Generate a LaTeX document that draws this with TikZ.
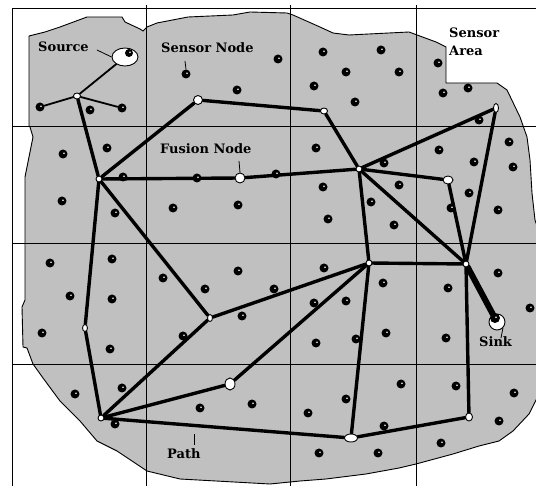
\documentclass[tikz,border=0pt]{standalone}
\usepackage{fontspec}
\setmainfont{DejaVu Serif}
\usetikzlibrary{shapes.geometric}
\pgfdeclarelayer{bg}
\pgfdeclarelayer{edges}
\pgfsetlayers{bg,edges,main}
\definecolor{areagray}{RGB}{192,192,192}
\begin{document}
\begin{tikzpicture}[x=1pt,y=-1pt,
  sens/.style={circle,fill=black,inner sep=0pt,minimum size=9pt,
    path picture={\fill[white] ([xshift=1pt,yshift=0.7pt]path picture bounding box.center) circle (0.9pt);}},
  fus/.style={ellipse,draw=black,fill=white,line width=0.9pt,inner sep=0pt,minimum width=8pt,minimum height=7pt},
  thickedge/.style={line width=3.4pt,line cap=round,line join=round},
  thinedge/.style={line width=1.8pt,line cap=round},
  sinkedge/.style={line width=6pt,line cap=round},
  leader/.style={line width=0.8pt},
  gridline/.style={line width=0.9pt,black},
  lbl/.style={font=\fontsize{13}{15}\selectfont\bfseries,anchor=base west,inner sep=0pt}
]
\useasboundingbox (0,0) rectangle (536,486);

% sensor area and grid
\begin{pgfonlayer}{bg}
\fill[white] (0,0) rectangle (536,486);
\draw[fill=areagray,line width=0.9pt]
 (29,36) -- (45,32) -- (60,27) -- (87,17) -- (122,17) -- (125,22) -- (140,29) -- (143,31) -- (147,27)
 -- (157,23) -- (188,17) -- (233,15) -- (250,12) -- (287,13) -- (293,15) -- (320,27) -- (333,33)
 -- (349,35) -- (409,32) -- (436,42) -- (446,47) -- (446,83) -- (466,83) -- (497,83) -- (507,90)
 -- (520,117) -- (527,137) -- (530,160) -- (532,193) -- (535,220) -- (537,226) -- (537,398)
 -- (529,414) -- (513,431) -- (499,441) -- (479,446) -- (453,454) -- (416,464) -- (399,468)
 -- (366,474) -- (326,479) -- (300,481) -- (270,484) -- (180,479) -- (147,471) -- (117,451)
 -- (97,441) -- (80,421) -- (60,401) -- (43,378) -- (33,364) -- (27,348) -- (23,347) -- (22,307)
 -- (25,300) -- (25,177) -- (33,137) -- (30,127) -- (29,126) -- cycle;
\draw[gridline] (12,8) -- (536,8);
\draw[gridline] (12,126) -- (536,126);
\draw[gridline] (12,243) -- (536,243);
\draw[gridline] (12,364) -- (536,364);
\draw[gridline] (12,8) -- (12,486);
\draw[gridline] (146,5) -- (146,486);
\draw[gridline] (290,5) -- (290,486);
\draw[gridline] (416,5) -- (416,486);
\end{pgfonlayer}

% source and sink
\node[ellipse,draw=black,fill=white,line width=0.9pt,minimum width=26pt,minimum height=18pt,inner sep=0pt] (src) at (125,57) {};
\node[sens,minimum size=8pt] (srcdot) at (129,53) {};
\node[circle,draw=black,fill=white,line width=0.9pt,minimum size=16pt,inner sep=0pt] (sink) at (497,322) {};
\node[sens,minimum size=10pt] (sinkdot) at (495,318) {};

% fusion / path nodes
\node[fus,minimum width=7pt,minimum height=6pt] (A) at (77,96) {};
\node[fus,minimum width=6pt,minimum height=6pt] (B) at (99,179) {};
\node[fus,minimum width=9pt,minimum height=9pt] (C) at (198,100) {};
\node[fus,minimum width=7pt,minimum height=6pt] (E) at (324,111) {};
\node[fus,minimum width=6pt,minimum height=6pt] (F) at (359,169) {};
\node[fus,minimum width=5pt,minimum height=9pt] (G) at (496,108) {};
\node[fus,minimum width=10pt,minimum height=8pt] (I) at (448,180) {};
\node[fus,minimum width=6pt,minimum height=6pt] (H) at (466,264) {};
\node[fus,minimum width=6pt,minimum height=6pt] (J) at (369,263) {};
\node[fus,minimum width=10pt,minimum height=10pt] (fusion) at (240,178) {};
\node[fus,minimum width=5pt,minimum height=7pt] (N) at (210,318) {};
\node[fus,minimum width=5pt,minimum height=7pt] (P) at (85,328) {};
\node[fus,minimum width=6pt,minimum height=6pt] (D) at (101,418) {};
\node[fus,minimum width=10pt,minimum height=12pt] (K) at (230,384) {};
\node[fus,minimum width=13pt,minimum height=8pt] (L) at (351,438) {};
\node[fus,minimum width=7pt,minimum height=8pt] (M) at (469,417) {};

% sensor nodes
\foreach \i/\p in {s1/{(40,107)},s2/{(122,108)},s3/{(90,110)},slab/{(186,74)},s5/{(237,90)},
  s6/{(63,154)},s7/{(107,148)},s8/{(62,201)},s9/{(115,213)},s10/{(123,177)},s11/{(197,178)},
  s12/{(173,208)},s13/{(238,205)},
  t1/{(278,59)},t2/{(323,52)},t3/{(381,50)},t4/{(346,72)},t5/{(399,72)},t6/{(314,86)},t7/{(355,102)},
  t8/{(438,63)},t9/{(443,93)},t10/{(468,88)},t11/{(479,120)},t12/{(316,148)},t13/{(384,163)},
  t14/{(439,150)},t15/{(474,162)},t16/{(509,142)},t17/{(513,167)},t18/{(399,185)},t19/{(323,187)},
  t20/{(276,174)},t21/{(371,202)},t22/{(451,208)},t23/{(469,193)},t24/{(498,210)},t25/{(328,219)},
  t26/{(394,225)},
  u1/{(50,263)},u2/{(112,259)},u3/{(70,296)},u4/{(112,299)},u5/{(42,333)},u6/{(110,349)},
  u7/{(163,278)},u8/{(205,289)},u9/{(238,271)},u10/{(242,316)},u11/{(183,336)},u12/{(122,388)},
  u13/{(75,394)},u14/{(200,408)},u15/{(252,404)},u16/{(115,424)},
  v1/{(324,268)},v2/{(274,289)},v3/{(314,303)},v4/{(346,301)},v5/{(383,283)},v6/{(448,288)},
  v7/{(498,273)},v8/{(530,308)},v9/{(316,343)},v10/{(356,339)},v11/{(386,333)},v12/{(446,338)},
  v13/{(401,384)},v14/{(456,386)},v15/{(514,393)},v16/{(308,413)},v17/{(346,399)},v18/{(384,426)},
  v19/{(499,421)},v20/{(319,453)},v21/{(378,453)},v22/{(441,443)}}
  \node[sens] (\i) at \p {};

% connectors
\begin{pgfonlayer}{edges}
\draw[thinedge] (A) -- (src);
\draw[thinedge] (A) -- (s1);
\draw[thinedge] (A) -- (s2);
\draw[thickedge] (A) -- (B);
\draw[thickedge] (B) -- (C);
\draw[thickedge] (B) -- (fusion);
\draw[thickedge] (fusion) -- (F);
\draw[thickedge] (B) -- (N);
\draw[thickedge] (B) -- (P);
\draw[thickedge] (P) -- (D);
\draw[thickedge] (C) -- (E);
\draw[thickedge] (E) -- (F);
\draw[thickedge] (F) -- (G);
\draw[thickedge] (F) -- (I);
\draw[thickedge] (F) -- (H);
\draw[thickedge] (F) -- (J);
\draw[thickedge] (G) -- (H);
\draw[thickedge] (I) -- (H);
\draw[thickedge] (J) -- (H);
\draw[thickedge] (N) -- (J);
\draw[thickedge] (N) -- (D);
\draw[thickedge] (D) -- (K);
\draw[thickedge] (K) -- (J);
\draw[thickedge] (D) -- (L);
\draw[thickedge] (J) -- (L);
\draw[thickedge] (L) -- (M);
\draw[thickedge] (M) -- (H);
\draw[sinkedge] (H) -- (sink);
\end{pgfonlayer}

% labels
\node[lbl] (tsource) at (38,52) {Source};
\node[lbl] (tsensor) at (161,53) {Sensor Node};
\node[lbl] (tfusion) at (160,154) {Fusion Node};
\node[lbl] (tarea1) at (449,38) {Sensor};
\node[lbl] (tarea2) at (449,56) {Area};
\node[lbl] (tpath) at (167,459) {Path};
\node[lbl] (tsink) at (479,347) {Sink};

\coordinate (cs1) at (97,50);
\draw[leader] (cs1) -- (src.west);
\coordinate (cs2) at (185,61);
\draw[leader] (cs2) -- (slab.north);
\coordinate (cs3) at (239,161);
\draw[leader] (cs3) -- (fusion.north);
\coordinate (cs4) at (194,434);
\coordinate (cs5) at (194,445);
\draw[leader] (cs4) -- (cs5);
\coordinate (cs6) at (501,338);
\draw[leader] (sink.south east) -- (cs6);
\end{tikzpicture}
\end{document}
